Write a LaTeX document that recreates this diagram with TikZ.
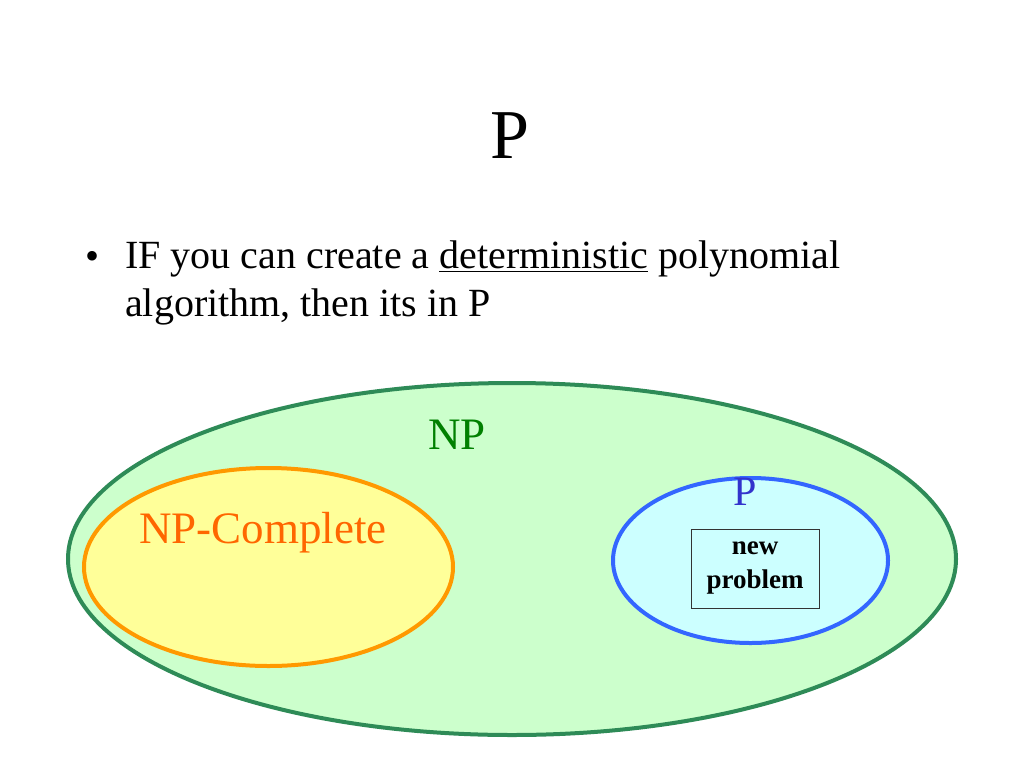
\documentclass[tikz,border=0pt]{standalone}
\usepackage{fontspec}
\setmainfont{Liberation Serif}
\usetikzlibrary{positioning}

\definecolor{npline}{RGB}{46,139,87}
\definecolor{npfill}{RGB}{204,255,204}
\definecolor{nptext}{RGB}{0,128,0}
\definecolor{npcline}{RGB}{255,153,0}
\definecolor{npcfill}{RGB}{255,255,153}
\definecolor{npctext}{RGB}{255,102,0}
\definecolor{pline}{RGB}{51,102,255}
\definecolor{pfill}{RGB}{204,255,255}
\definecolor{ptext}{RGB}{51,51,204}

\begin{document}
\begin{tikzpicture}[
    x=1pt, y=-1pt,
    set/.style={
        line width=4pt
    },
    label/.style={
        font=\fontsize{45}{54}\selectfont,
        inner sep=0pt
    },
    bodytext/.style={
        font=\fontsize{40}{48}\selectfont,
        inner sep=0pt
    },
    probbox/.style={
        draw=black!80,
        fill=pfill,
        align=center,
        minimum width=128pt,
        minimum height=79pt,
        font=\fontsize{27}{34}\selectfont\bfseries,
        line width=1pt
    }
]
\useasboundingbox (0,0) rectangle (1024,768);

% Title and bullet
\node (title) [font=\fontsize{70}{84}\selectfont, inner sep=0pt] at (510,136) {P};
\node (bullet) [bodytext] at (93,260) {\textbullet};
\node (text) [bodytext, anchor=north west, align=left] at (125,241)
    {IF you can create a \underline{deterministic} polynomial\\algorithm, then its in P};

% Sets
\draw [set, draw=npline, fill=npfill] (512,559) ellipse [x radius=444, y radius=176];
\draw [set, draw=npcline, fill=npcfill] (268.5,567) ellipse [x radius=184.5, y radius=99];
\draw [set, draw=pline, fill=pfill] (750.5,560.5) ellipse [x radius=137.5, y radius=82.5];

% Labels
\node (np) [label, text=nptext] at (457,435) {NP};
\node (npc) [label, text=npctext] at (263,533) {NP-Complete};
\node (p) [label, font=\fontsize{42}{50}\selectfont, text=ptext] at (745.5,492) {P};
\node (new) [probbox] at (755,568.5) {new\\problem};

\end{tikzpicture}
\end{document}
